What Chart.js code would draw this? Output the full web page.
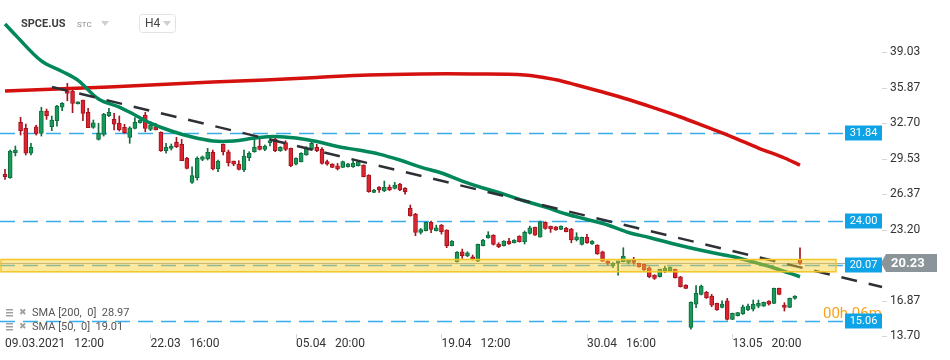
<!DOCTYPE html>
<html>
<head>
<meta charset="utf-8">
<script src="https://cdn.jsdelivr.net/npm/chart.js@4.4.1/dist/chart.umd.min.js"></script>
<style>
  html, body { margin: 0; padding: 0; background: #fff; }
  #wrap { width: 950px; height: 360px; position: relative; }
</style>
</head>
<body>
<div id="wrap"><canvas id="chart"></canvas></div>
<script>
// H4 candles, index 0 = 09.03.2021 12:00
const opens = [28.16,27.85,30.08,32.79,32.26,30.03,32.40,31.81,33.80,32.40,32.94,34.14,35.62,35.59,34.43,34.79,33.69,32.35,31.27,31.72,
  33.38,33.06,32.71,32.35,31.45,32.26,32.76,33.45,32.17,32.40,31.90,30.26,30.47,31.01,30.83,29.58,27.44,27.85,29.49,29.52,
  30.12,28.63,30.83,30.17,29.34,29.07,28.54,29.63,30.17,30.68,30.38,30.98,31.30,30.26,30.98,30.47,29.05,29.28,29.88,30.38,
  30.56,30.38,29.28,29.07,28.92,28.78,28.83,28.83,28.92,28.98,28.09,26.54,26.99,26.69,26.99,26.90,27.29,26.90,25.11,24.61,
  22.97,23.12,23.86,23.12,23.62,23.18,21.78,20.35,21.24,20.86,20.79,20.41,21.78,22.49,22.73,21.93,21.78,22.20,22.05,22.64,
  22.13,22.88,23.42,22.55,23.86,23.53,23.47,23.24,23.33,23.27,22.29,21.90,22.52,21.93,21.84,21.24,20.41,20.00,20.26,20.35,
  20.29,20.50,20.20,20.11,19.81,19.16,19.01,19.55,19.55,19.67,19.01,18.27,14.49,16.57,17.44,17.62,17.29,16.63,16.28,16.87,
  15.20,15.53,15.68,16.04,16.12,16.39,16.39,16.84,16.63,17.97,16.48,16.28,17.08,20.50];
const highs = [28.60,30.32,30.68,33.24,32.64,30.92,32.53,34.14,33.98,33.36,34.31,34.55,36.28,35.74,34.63,34.79,34.05,33.00,32.71,33.60,
  34.05,33.60,33.36,32.62,32.40,33.21,33.15,33.69,32.85,32.71,31.95,30.92,30.86,31.46,31.28,29.67,28.83,29.72,29.79,30.47,
  30.32,29.43,30.86,30.32,29.34,29.37,30.32,30.17,31.28,31.51,30.77,31.51,31.37,30.62,31.15,30.50,29.63,30.08,30.62,31.01,
  30.83,30.53,29.43,29.10,29.13,29.34,29.13,29.52,29.31,29.00,28.12,26.81,27.05,27.55,27.20,27.44,27.35,26.96,25.41,24.67,
  23.33,23.89,23.98,23.62,23.68,23.21,22.23,21.25,21.48,21.24,20.95,21.93,22.35,23.03,22.76,22.05,22.23,22.44,22.32,22.67,
  23.09,23.53,23.45,23.98,23.92,23.53,23.50,23.56,23.42,23.33,22.94,22.55,22.79,22.23,21.87,21.30,20.44,20.27,20.41,21.60,
  20.56,20.74,20.23,20.14,19.90,19.19,19.70,19.96,19.90,19.70,19.04,18.30,16.78,18.21,18.27,17.70,17.44,16.66,16.87,17.08,
  15.77,15.83,16.48,16.57,16.93,16.93,16.75,16.87,18.00,18.00,16.69,17.11,17.32,21.60];
const lows = [27.70,27.80,29.79,31.66,29.88,29.88,31.66,31.57,33.06,32.05,32.46,33.83,34.72,33.65,34.43,32.94,32.31,32.26,31.21,31.57,
  33.29,32.11,32.02,31.81,30.92,32.20,32.71,31.95,32.05,32.11,30.20,30.03,30.32,30.53,29.37,28.63,27.35,27.64,29.37,29.43,
  28.54,28.38,29.88,28.89,28.92,28.54,28.38,29.37,30.12,30.32,30.26,30.68,30.17,30.20,30.26,28.83,29.00,29.25,29.85,30.32,
  30.17,29.07,28.98,28.75,28.54,28.75,28.80,28.78,28.89,27.92,26.55,26.51,26.54,26.60,26.69,26.84,26.69,26.39,24.42,22.67,
  22.82,23.09,22.94,23.09,22.82,21.60,21.75,20.30,20.65,20.80,20.50,20.35,21.75,22.44,21.84,21.60,21.75,21.90,22.02,22.10,
  21.93,22.82,22.70,22.55,23.24,22.97,23.15,23.21,23.00,22.04,22.20,21.84,21.99,21.90,21.00,20.38,20.06,19.81,19.16,20.33,
  20.14,20.12,19.87,19.58,18.92,18.77,18.98,19.37,19.52,18.89,18.09,17.94,14.34,16.24,17.38,17.07,16.33,16.00,16.22,15.14,
  15.17,15.50,15.65,15.98,15.95,16.24,16.36,16.48,16.60,17.40,15.95,16.25,17.00,20.10];
const closes = [27.94,30.23,30.32,32.05,30.03,30.56,31.81,33.80,33.38,33.00,34.25,34.49,35.38,34.49,34.63,33.60,32.31,32.76,31.81,33.51,
  33.69,32.62,32.11,31.87,32.31,32.79,33.00,32.26,32.55,32.11,30.26,30.56,30.68,30.62,29.37,28.69,28.03,29.58,29.72,30.12,
  28.63,29.34,30.17,29.19,29.05,28.60,29.79,30.03,30.56,30.38,30.68,31.13,30.26,30.56,30.38,28.92,29.58,30.03,30.47,30.92,
  30.26,29.13,29.05,28.78,28.63,29.28,29.10,29.13,29.28,27.94,26.60,26.75,26.75,26.99,26.75,27.20,26.75,26.60,24.45,22.97,
  23.21,23.86,23.24,23.38,23.03,21.78,22.20,21.19,20.89,21.15,20.59,21.90,22.29,22.73,21.90,21.69,22.20,21.93,22.29,22.13,
  22.97,23.38,22.73,23.92,23.33,23.27,23.18,23.53,23.03,22.29,22.58,22.52,22.04,22.20,21.04,20.41,20.21,20.24,20.35,20.86,
  20.50,20.29,19.90,19.61,19.01,18.86,19.67,19.76,19.85,18.92,18.12,17.97,16.72,17.53,18.18,17.13,16.48,16.04,16.57,15.20,
  15.74,15.80,16.33,16.39,16.54,16.63,16.72,16.57,17.97,17.44,16.28,17.08,17.29,20.23];

const sma200Idx = [0, 10, 20, 30, 40, 50, 60, 70, 80, 90, 100, 106, 110, 115, 120, 125, 130, 135, 140, 145, 150, 153];
const sma200Val = [35.59, 35.77, 35.95, 36.17, 36.39, 36.57, 36.80, 37.02, 37.11, 37.11, 37.02, 36.60, 36.13, 35.50, 34.83, 34.07, 33.27, 32.38, 31.48, 30.50, 29.61, 28.97];
const sma50Idx = [0, 2, 7, 11, 14, 18, 22, 25, 28, 32, 36, 40, 44, 48, 52, 56, 60, 64, 68, 72, 76, 80, 84, 88, 92, 96, 100, 104, 108, 112, 116, 120, 124, 128, 132, 136, 140, 144, 148, 153];
const sma50Val = [41.57, 40.59, 38.27, 37.33, 36.57, 34.88, 34.16, 33.45, 32.73, 32.02, 31.48, 31.13, 31.13, 31.39, 31.53, 31.39, 31.08, 30.63, 30.32, 29.96, 29.43, 28.80, 28.27, 27.55, 26.93, 26.39, 25.77, 25.23, 24.61, 24.12, 23.63, 22.96, 22.51, 22.02, 21.57, 21.17, 20.81, 20.32, 19.79, 19.01];

const trendIdx = [9.05, 168.8];
const trendVal = [35.95, 18.09];

const levels = [31.84, 24.00, 20.07, 15.06];
const zoneTop = 20.55, zoneBottom = 19.45;
const lastPrice = 20.23;

const yTicks = [13.70, 16.87, 20.03, 23.20, 26.37, 29.53, 32.70, 35.87, 39.03];
const xTickIdx = [0, 28, 56, 84, 112, 140];
const xTickLabels = ['09.03.2021   12:00', '22.03   16:00', '05.04   20:00', '19.04   12:00', '30.04   16:00', '13.05   20:00'];

const UP = '#18995a', UP_EDGE = '#0f6e3e';
const DOWN = '#dc2430', DOWN_EDGE = '#a5141e';
const isUp = i => closes[i] >= opens[i];

const bodies = opens.map((o, i) => ({ x: i, y: [Math.min(o, closes[i]), Math.max(o, closes[i])] }));
const wicks = lows.map((l, i) => ({ x: i, y: [l, highs[i]] }));

const overlay = {
  id: 'overlay',
  beforeDatasetsDraw(chart) {
    const { ctx, chartArea: a, scales: { y } } = chart;
    ctx.save();
    const py = Math.round(y.getPixelForValue(lastPrice)) + 0.5;
    ctx.strokeStyle = '#a3a9ac';
    ctx.lineWidth = 1;
    ctx.beginPath(); ctx.moveTo(a.left, py); ctx.lineTo(884, py); ctx.stroke();
    ctx.setLineDash([15, 8]);
    ctx.strokeStyle = '#38ade9';
    ctx.lineWidth = 1.5;
    levels.forEach(v => {
      const ly = Math.round(y.getPixelForValue(v)) + 0.5;
      ctx.beginPath(); ctx.moveTo(a.left, ly); ctx.lineTo(846, ly); ctx.stroke();
    });
    ctx.restore();
  },
  afterDatasetsDraw(chart) {
    const { ctx, chartArea: a, scales: { x, y } } = chart;
    ctx.save();
    // support / resistance zone
    const zt = y.getPixelForValue(zoneTop), zb = y.getPixelForValue(zoneBottom);
    ctx.fillStyle = 'rgba(250, 205, 45, 0.45)';
    ctx.fillRect(a.left + 1, zt, a.right - a.left - 1, zb - zt);
    ctx.strokeStyle = '#f3c623';
    ctx.lineWidth = 1.5;
    ctx.strokeRect(a.left + 1, zt, a.right - a.left - 1, zb - zt);

    // small tick marks
    ctx.strokeStyle = '#d6d6d6';
    ctx.lineWidth = 1;
    yTicks.forEach(v => {
      const ty = Math.round(y.getPixelForValue(v)) + 0.5;
      ctx.beginPath(); ctx.moveTo(882, ty); ctx.lineTo(887, ty); ctx.stroke();
    });
    xTickIdx.forEach((v, k) => {
      if (k === 0) return;
      const tx = Math.round(x.getPixelForValue(v)) + 0.5;
      ctx.beginPath(); ctx.moveTo(tx, a.bottom - 3); ctx.lineTo(tx, a.bottom + 2); ctx.stroke();
    });

    // countdown text
    ctx.fillStyle = '#f6a31c';
    ctx.font = '15px Roboto';
    ctx.textBaseline = 'middle';
    ctx.textAlign = 'left';
    ctx.fillText('00h 06m', 823, 314);

    // level tags
    ctx.font = '11px Roboto';
    ctx.textAlign = 'center';
    levels.forEach(v => {
      const ly = Math.round(y.getPixelForValue(v));
      ctx.fillStyle = '#0ea2e7';
      ctx.fillRect(845, ly - 7.5, 37, 15);
      ctx.fillStyle = '#fff';
      ctx.fillText(v.toFixed(2), 863.5, ly + 0.5);
    });

    // last price tag
    const py = Math.round(y.getPixelForValue(lastPrice));
    ctx.fillStyle = '#8b9498';
    ctx.beginPath();
    ctx.moveTo(881, py); ctx.lineTo(886, py - 9); ctx.lineTo(937, py - 9);
    ctx.lineTo(937, py + 9); ctx.lineTo(886, py + 9); ctx.closePath();
    ctx.fill();
    ctx.fillStyle = '#fff';
    ctx.font = 'bold 13px Roboto';
    ctx.textAlign = 'left';
    ctx.fillText(lastPrice.toFixed(2), 891, py + 0.5);

    // header
    ctx.fillStyle = '#3d3d3d';
    ctx.font = 'bold 11px Roboto';
    ctx.fillText('SPCE.US', 21, 24);
    ctx.fillStyle = '#8c8c8c';
    ctx.font = '8px Roboto';
    ctx.fillText('STC', 77, 25);
    ctx.fillStyle = '#cfcfcf';
    ctx.beginPath(); ctx.moveTo(101, 21); ctx.lineTo(109, 21); ctx.lineTo(105, 26); ctx.closePath(); ctx.fill();
    ctx.strokeStyle = '#e2e2e2';
    ctx.beginPath(); ctx.roundRect(139.5, 14.5, 36, 18, 3); ctx.stroke();
    ctx.fillStyle = '#444';
    ctx.font = '12px Roboto';
    ctx.fillText('H4', 145, 24);
    ctx.fillStyle = '#cfcfcf';
    ctx.beginPath(); ctx.moveTo(163, 21); ctx.lineTo(171, 21); ctx.lineTo(167, 26); ctx.closePath(); ctx.fill();

    // indicator legend
    [['SMA [200,  0]  ' + sma200Val[sma200Val.length - 1].toFixed(2), 313],
     ['SMA [50,  0]  ' + sma50Val[sma50Val.length - 1].toFixed(2), 327]].forEach(([t, ly]) => {
      ctx.fillStyle = '#a0a0a0';
      ctx.fillRect(6, ly - 4, 7, 1.5);
      ctx.fillRect(6, ly - 1, 7, 1.5);
      ctx.fillRect(6, ly + 2, 7, 1.5);
      ctx.font = 'bold 9px "DejaVu Sans"';
      ctx.fillText('\u2716', 19, ly);
      ctx.fillStyle = '#555';
      ctx.font = '11px Roboto';
      ctx.fillText(t, 32, ly);
    });
    ctx.restore();
  }
};

new Chart(document.getElementById('chart'), {
  type: 'bar',
  data: {
    datasets: [
      {
        type: 'line',
        data: trendIdx.map((v, k) => ({ x: v, y: trendVal[k] })),
        borderColor: '#2d3036',
        borderWidth: 2.5,
        borderDash: [16, 12],
        pointRadius: 0,
        clip: false,
      },
      {
        type: 'line',
        data: sma50Idx.map((v, k) => ({ x: v, y: sma50Val[k] })),
        borderColor: '#00875a',
        borderWidth: 3.5,
        pointRadius: 0,
        tension: 0.35,
      },
      {
        type: 'line',
        data: sma200Idx.map((v, k) => ({ x: v, y: sma200Val[k] })),
        borderColor: '#d4110f',
        borderWidth: 3.5,
        pointRadius: 0,
        tension: 0.35,
      },
      {
        data: bodies,
        backgroundColor: c => isUp(c.dataIndex) ? UP : DOWN,
        borderColor: c => isUp(c.dataIndex) ? UP_EDGE : DOWN_EDGE,
        borderWidth: 1,
        borderSkipped: false,
        barThickness: 4,
        minBarLength: 2,
        grouped: false,
      },
      {
        data: wicks,
        backgroundColor: c => isUp(c.dataIndex) ? UP_EDGE : DOWN_EDGE,
        borderWidth: 0,
        barThickness: 1,
        grouped: false,
      },
    ],
  },
  options: {
    responsive: true,
    maintainAspectRatio: false,
    animation: false,
    events: [],
    layout: { padding: 0 },
    plugins: { legend: { display: false }, tooltip: { enabled: false } },
    scales: {
      x: {
        type: 'linear',
        min: -0.962,
        max: 159.93,
        offset: false,
        grid: { display: false, drawTicks: false },
        border: { display: false },
        afterBuildTicks: s => { s.ticks = xTickIdx.map(v => ({ value: v })); },
        afterFit: s => { s.height = 23; s.paddingLeft = 0; s.paddingRight = 0; },
        ticks: {
          align: 'start',
          padding: 0,
          autoSkip: false,
          maxRotation: 0,
          minRotation: 0,
          color: '#333',
          font: { family: 'Roboto', size: 12 },
          callback: v => xTickLabels[xTickIdx.indexOf(v)],
        },
      },
      y: {
        position: 'right',
        min: 13.63,
        max: 43.715,
        grid: { display: false, drawTicks: false },
        border: { display: false },
        afterBuildTicks: s => { s.ticks = yTicks.map(v => ({ value: v })); },
        afterFit: s => { s.width = 114; s.paddingTop = 0; s.paddingBottom = 0; },
        ticks: {
          padding: 54,
          color: '#333',
          font: { family: 'Roboto', size: 12 },
          callback: v => v.toFixed(2),
        },
      },
    },
  },
  plugins: [overlay],
});
</script>
</body>
</html>
